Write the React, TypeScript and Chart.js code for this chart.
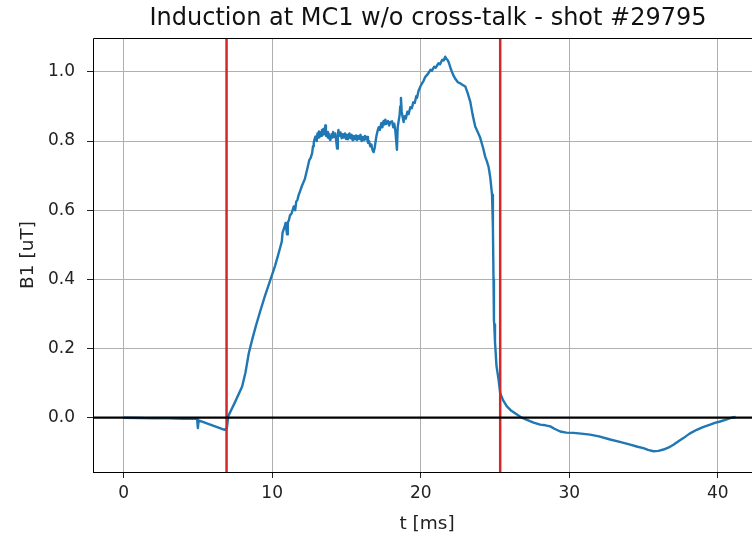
import React, { useEffect, useRef } from "react";
import { Chart, registerables } from "chart.js";

Chart.register(...registerables);

const TITLE = "Induction at MC1 w/o cross-talk - shot #29795";
const X_LABEL = "t [ms]";
const Y_LABEL = "B1 [uT]";
const X_TICKS = [0, 10, 20, 30, 40];
const Y_TICKS = [0.0, 0.2, 0.4, 0.6, 0.8, 1.0];
const X_RANGE = [-2.06, 42.3];
const Y_RANGE = [-0.157, 1.098];
const MARKER_T = [6.93, 25.35];
const ZERO_LEVEL = 0;

const tMs = [
  0, 1, 2, 3, 4, 4.9, 4.95, 5.0, 5.05, 6.8, 6.95, 7.05,
  7.5, 7.98, 8.2, 8.43, 8.65, 8.9, 9.21, 9.5, 9.89, 10.2, 10.4, 10.56, 10.65, 10.7, 10.78, 10.85, 10.9, 11.0, 11.05, 11.12,
  11.2, 11.3, 11.38, 11.45, 11.55, 11.62, 11.7, 11.79, 11.88, 12.0, 12.1, 12.2, 12.28, 12.35, 12.42, 12.5, 12.6, 12.69, 12.75, 12.8, 12.85, 12.91,
  13.0, 13.05, 13.1, 13.15, 13.2, 13.25, 13.3, 13.35, 13.4, 13.45, 13.5, 13.58, 13.62, 13.7, 13.75, 13.8, 13.85, 13.92,
  14.0, 14.05, 14.1, 14.18, 14.25, 14.3, 14.37, 14.42, 14.46, 14.52, 14.6, 14.68, 14.75, 14.82, 14.9, 14.98,
  15.04, 15.1, 15.2, 15.28, 15.35, 15.42, 15.5, 15.58, 15.65, 15.72, 15.8, 15.88, 15.95,
  16.02, 16.1, 16.18, 16.25, 16.32, 16.39, 16.45, 16.52, 16.6, 16.68, 16.75, 16.83, 16.9, 16.95,
  17.02, 17.1, 17.17, 17.25, 17.35, 17.42, 17.5, 17.58, 17.62, 17.7, 17.8, 17.88, 17.95,
  18.07, 18.15, 18.22, 18.29, 18.35, 18.4, 18.45, 18.52, 18.58, 18.62, 18.67, 18.72, 18.78, 18.85, 18.92,
  19.0, 19.1, 19.19, 19.3, 19.4, 19.5, 19.6, 19.7, 19.75, 19.85, 19.9,
  20.0, 20.09, 20.2, 20.3, 20.4, 20.5, 20.65, 20.75, 20.9, 21.0, 21.2, 21.3, 21.45, 21.55, 21.65, 21.72, 21.8, 21.88,
  22.0, 22.1, 22.2, 22.33, 22.5, 22.66, 22.8, 23.0, 23.15, 23.33, 23.5, 23.67, 23.85, 24.0, 24.2, 24.34, 24.45, 24.57, 24.68, 24.8, 24.86,
  24.9, 24.93, 24.95, 25.0, 25.1, 25.24, 25.35, 25.55, 25.8, 26.1, 26.48, 26.8, 27.15, 27.6, 28.04, 28.4,
  28.72, 29.0, 29.39, 29.8, 30.28, 30.8, 31.4, 32.0, 32.75, 33.4, 34.1, 34.6, 34.99, 35.3, 35.67, 36.0,
  36.34, 36.7, 37.01, 37.35, 37.68, 38.1, 38.58, 39.0, 39.48, 39.8, 40.15, 40.5, 40.93, 41.2,
];

const b1 = [
  0.0, -0.001, -0.002, -0.002, -0.003, -0.003, -0.004, -0.03, -0.008, -0.035, -0.03, 0.005,
  0.045, 0.09, 0.13, 0.187, 0.225, 0.265, 0.31, 0.35, 0.4, 0.44, 0.47, 0.495, 0.51, 0.535, 0.545, 0.555, 0.563, 0.53, 0.565, 0.57,
  0.585, 0.59, 0.6, 0.611, 0.6, 0.625, 0.63, 0.645, 0.655, 0.67, 0.68, 0.69, 0.705, 0.717, 0.73, 0.745, 0.752, 0.765, 0.785, 0.795, 0.805, 0.813,
  0.8, 0.822, 0.81, 0.828, 0.812, 0.825, 0.815, 0.832, 0.818, 0.835, 0.82, 0.845, 0.815, 0.826, 0.81, 0.822, 0.808, 0.803,
  0.82, 0.81, 0.826, 0.812, 0.822, 0.805, 0.778, 0.81, 0.832, 0.815, 0.825, 0.808, 0.82, 0.81, 0.822, 0.806,
  0.818, 0.805, 0.822, 0.808, 0.818, 0.802, 0.815, 0.805, 0.816, 0.803, 0.815, 0.806, 0.818,
  0.8, 0.812, 0.803, 0.815, 0.805, 0.812, 0.795, 0.8, 0.785, 0.79, 0.775, 0.768, 0.78, 0.795,
  0.815, 0.83, 0.84, 0.832, 0.852, 0.84, 0.858, 0.848, 0.862, 0.85, 0.858, 0.845, 0.855,
  0.857, 0.84, 0.85, 0.83, 0.8, 0.775, 0.84, 0.86, 0.875, 0.9, 0.925, 0.885, 0.87, 0.855, 0.872,
  0.865, 0.885, 0.878, 0.898, 0.895, 0.912, 0.91, 0.93, 0.925, 0.945, 0.95,
  0.96, 0.967, 0.975, 0.985, 0.99, 0.995, 1.006, 1.003, 1.015, 1.012, 1.025, 1.022, 1.035, 1.033, 1.044, 1.038, 1.035, 1.028,
  1.012, 1.0, 0.99, 0.98, 0.97, 0.967, 0.963, 0.958, 0.94, 0.915, 0.875, 0.842, 0.825, 0.81, 0.78, 0.755, 0.742, 0.725, 0.695, 0.645, 0.55,
  0.4, 0.28, 0.27, 0.22, 0.15, 0.11, 0.071, 0.05, 0.033, 0.02, 0.009, 0.0, -0.006, -0.014, -0.02, -0.022,
  -0.025, -0.032, -0.04, -0.043, -0.044, -0.046, -0.049, -0.054, -0.063, -0.07, -0.078, -0.084, -0.088, -0.093, -0.097, -0.096,
  -0.092, -0.086, -0.078, -0.068, -0.059, -0.046, -0.035, -0.027, -0.02, -0.015, -0.011, -0.006, 0.0, 0.002,
];

const FONT = '"DejaVu Sans", "Liberation Sans", sans-serif';

const decorPlugin = {
  id: "decor",
  afterDraw(chart: any) {
    const { ctx, chartArea: a } = chart;
    ctx.save();
    ctx.strokeStyle = "#000";
    ctx.lineWidth = 1;
    ctx.beginPath();
    ctx.moveTo(a.left + 0.5, a.bottom + 0.5);
    ctx.lineTo(a.left + 0.5, a.top + 0.5);
    ctx.lineTo(a.right, a.top + 0.5);
    ctx.moveTo(a.left, a.bottom + 0.5);
    ctx.lineTo(a.right, a.bottom + 0.5);
    ctx.stroke();

    ctx.fillStyle = "#111";
    ctx.textAlign = "center";
    ctx.textBaseline = "alphabetic";
    ctx.font = `24px ${FONT}`;
    ctx.fillText(TITLE, a.left + 335, a.top - 13);

    ctx.font = `18.5px ${FONT}`;
    ctx.fillStyle = "#222";
    ctx.textBaseline = "middle";
    ctx.fillText(X_LABEL, a.left + 334, a.bottom + 52);

    ctx.translate(a.left - 65, (a.top + a.bottom) / 2);
    ctx.rotate(-Math.PI / 2);
    ctx.fillText(Y_LABEL, 0, 0);
    ctx.restore();
  },
};

export default function App() {
  const ref = useRef<HTMLCanvasElement | null>(null);

  useEffect(() => {
    if (!ref.current) return;
    const curve = tMs.map((t, i) => ({ x: t, y: b1[i] }));
    const markerSets = MARKER_T.map((t) => ({
      data: [
        { x: t, y: Y_RANGE[0] - 1 },
        { x: t, y: Y_RANGE[1] + 1 },
      ],
      borderColor: "#d62728",
      borderWidth: 2.5,
      pointRadius: 0,
      clip: 0,
      order: 1,
    }));
    const chart = new Chart(ref.current, {
      type: "line",
      data: {
        datasets: [
          {
            data: [
              { x: X_RANGE[0] - 5, y: ZERO_LEVEL },
              { x: X_RANGE[1] + 5, y: ZERO_LEVEL },
            ],
            borderColor: "#000",
            borderWidth: 2.2,
            pointRadius: 0,
            clip: 0,
            order: 0,
          },
          ...markerSets,
          {
            data: curve,
            borderColor: "#1f77b4",
            borderWidth: 2.4,
            borderJoinStyle: "round",
            pointRadius: 0,
            tension: 0,
            clip: 0,
            order: 2,
          },
        ] as any,
      },
      options: {
        responsive: false,
        animation: false,
        devicePixelRatio: 1,
        events: [],
        layout: { padding: { top: 38, left: 0, right: 0, bottom: 0 } },
        plugins: {
          legend: { display: false },
          tooltip: { enabled: false },
          title: { display: false },
        },
        scales: {
          x: {
            type: "linear",
            min: X_RANGE[0],
            max: X_RANGE[1],
            afterBuildTicks: (s: any) => {
              s.ticks = X_TICKS.map((v) => ({ value: v }));
            },
            afterFit: (s: any) => {
              s.height = 69;
            },
            border: { display: false },
            grid: {
              color: "#b0b0b0",
              lineWidth: 1,
              drawTicks: true,
              tickLength: 6,
              tickColor: "#222",
            },
            ticks: {
              padding: 5,
              maxRotation: 0,
              autoSkip: false,
              color: "#222",
              font: { family: FONT, size: 17 },
              callback: (v: any) => String(v),
            },
          },
          y: {
            type: "linear",
            min: Y_RANGE[0],
            max: Y_RANGE[1],
            afterBuildTicks: (s: any) => {
              s.ticks = Y_TICKS.map((v) => ({ value: v }));
            },
            afterFit: (s: any) => {
              s.width = 93;
            },
            border: { display: false },
            grid: {
              color: "#b0b0b0",
              lineWidth: 1,
              drawTicks: true,
              tickLength: 6,
              tickColor: "#222",
            },
            ticks: {
              padding: 12,
              autoSkip: false,
              color: "#222",
              font: { family: FONT, size: 17 },
              callback: (v: any) => Number(v).toFixed(1),
            },
          },
        },
      },
      plugins: [decorPlugin],
    });
    return () => chart.destroy();
  }, []);

  return (
    <div style={{ position: "absolute", left: 0, top: 0, width: 752, height: 541, background: "#fff" }}>
      <canvas ref={ref} width={752} height={541} />
    </div>
  );
}
